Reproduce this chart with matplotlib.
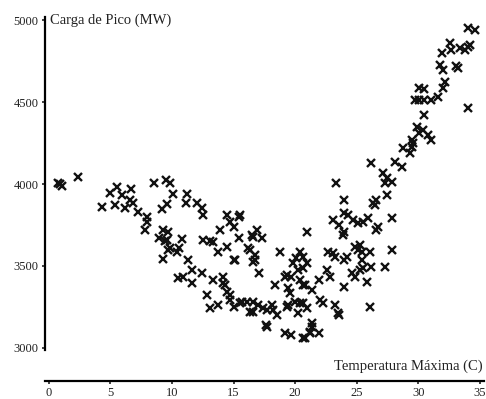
import matplotlib
matplotlib.use("Agg")
import matplotlib.pyplot as plt

plt.rcParams['font.family'] = 'Liberation Serif'

# temperature (C) / peak load (MW)
temp = [0.7, 1.1, 0.9, 2.4, 4.3, 5.0, 5.5, 5.4, 5.9, 6.2, 6.7, 6.6, 6.8, 7.2, 8.0, 8.0, 7.8, 8.5, 9.2, 9.6,
        8.9, 9.3, 9.7, 9.4, 9.3, 9.7, 9.5, 9.8, 9.6, 9.8,
        10.1, 10.4, 10.8, 10.6, 10.5, 10.9, 11.2, 11.1, 11.3, 11.6, 11.6, 12.0, 12.4, 12.5, 12.4, 12.5,
        12.8, 13.1, 13.7, 13.1, 13.3, 13.7, 13.3, 14.1, 13.9, 14.5, 14.1, 14.5, 14.7, 14.5, 14.7, 14.3,
        15.0, 15.4, 15.0, 15.5, 15.1, 15.4, 15.5, 16.1, 16.2, 16.3, 16.5, 16.9, 17.3, 16.6, 16.3, 16.7,
        16.7, 17.1, 16.6, 17.0, 17.4, 17.7, 15.7, 16.6, 18.1, 18.2, 18.5, 17.7, 18.4, 18.8, 19.2, 19.3,
        19.2, 17.6, 15.0, 16.6, 19.4, 14.7,
        19.6, 19.4, 20.0, 19.8, 20.1, 20.4, 20.6, 20.2, 20.6, 21.0, 20.4, 20.6, 20.8, 20.2, 20.4, 20.6,
        19.7, 20.6, 21.2, 21.9, 21.0, 21.4, 21.0, 21.4, 22.0, 22.3, 21.9, 22.6, 22.8, 22.7, 23.1, 23.2,
        23.6, 23.3, 23.1, 23.6, 19.7, 19.3, 21.2, 20.8, 23.5, 21.4,
        24.0, 24.0, 24.3, 24.0, 23.9, 24.0, 24.2, 24.0, 24.7, 25.1, 25.5, 25.9, 24.9, 25.1, 24.6, 24.9,
        25.3, 25.4, 25.4, 25.5, 26.1, 25.8, 26.1, 26.2, 26.3, 26.6, 26.7, 26.5, 26.6, 27.3, 27.5, 27.3,
        27.5, 27.1, 27.9, 27.9, 27.9, 26.2, 28.1, 28.7, 25.3, 23.2,
        28.8, 29.3, 29.5, 29.6, 29.5, 29.9, 30.1, 30.4, 30.5, 31.0, 30.8, 29.7, 30.1, 30.5, 31.0, 30.1,
        30.5, 31.6, 32.0, 32.2, 31.8, 32.0, 33.2, 33.1, 31.9, 32.6, 32.7, 33.4, 33.8, 34.2, 34.0, 34.0,
        34.0, 34.6]
load = [4005, 3990, 4000, 4045, 3860, 3945, 3980, 3870, 3935, 3855, 3970, 3905, 3885, 3830, 3800, 3770, 3720, 4005, 3850, 3880,
        3670, 3720, 3710, 3655, 3545, 3600, 4025, 4005, 3660, 3610,
        3940, 3585, 3665, 3610, 3425, 3435, 3940, 3885, 3535, 3475, 3395, 3885, 3855, 3810, 3460, 3660,
        3325, 3245, 3260, 3655, 3645, 3585, 3415, 3435, 3720, 3615, 3395, 3340, 3325, 3810, 3770, 3385,
        3250, 3800, 3740, 3810, 3535, 3670, 3275, 3280, 3610, 3220, 3690, 3720, 3670, 3675, 3600, 3565,
        3535, 3460, 3220, 3260, 3245, 3230, 3280, 3280, 3260, 3230, 3200, 3130, 3385, 3585, 3430, 3445,
        3090, 3140, 3535, 3525, 3365, 3295,
        3335, 3260, 3280, 3520, 3550, 3585, 3555, 3475, 3490, 3520, 3415, 3385, 3385, 3215, 3275, 3275,
        3080, 3060, 3090, 3090, 3245, 3155, 3710, 3355, 3295, 3275, 3415, 3475, 3435, 3585, 3580, 3260,
        3200, 4005, 3780, 3750, 3430, 3250, 3100, 3060, 3215, 3130,
        3905, 3825, 3810, 3710, 3690, 3370, 3555, 3535, 3780, 3765, 3770, 3795, 3615, 3600, 3460, 3435,
        3630, 3585, 3535, 3490, 3250, 3405, 3585, 3495, 3885, 3720, 3740, 3870, 3905, 3495, 3935, 4005,
        4035, 4070, 4015, 3795, 3600, 4130, 4135, 4105, 3475, 3555,
        4220, 4190, 4270, 4250, 4225, 4350, 4310, 4330, 4420, 4270, 4300, 4515, 4515, 4515, 4515, 4585,
        4580, 4530, 4585, 4625, 4725, 4695, 4710, 4720, 4800, 4860, 4820, 4830, 4820, 4850, 4835, 4465,
        4950, 4940]

xticks = [0, 5, 10, 15, 20, 25, 30, 35]
yticks = [3000, 3500, 4000, 4500, 5000]

fig = plt.figure(figsize=(4.86, 3.99), dpi=100)
ax = fig.add_axes([45/486, 14/399, 439/486, 369/399])
ax.plot(temp, load, 'x', color='#111111', markersize=5.2, markeredgewidth=1.7)

ax.set_xlim(-0.32, 35.34)
ax.set_ylim(2774, 5025)

for s in ['top', 'right']:
    ax.spines[s].set_visible(False)
ax.spines['left'].set_bounds(2990, 5020)
ax.spines['left'].set_linewidth(1.6)
ax.spines['bottom'].set_position(('data', 2800))
ax.spines['bottom'].set_linewidth(1.6)

ax.set_xticks(xticks)
ax.set_yticks(yticks)
ax.tick_params(axis='both', direction='out', length=2.5, width=1.2, labelsize=9, colors='#222222', pad=2)

ax.text(0.1, 5000, 'Carga de Pico (MW)', fontsize=10.5, color='#222222', ha='left', va='center')
ax.text(35.2, 2890, 'Temperatura Máxima (C)', fontsize=10.5, color='#222222', ha='right', va='center')

plt.savefig('out.png', dpi=100)
